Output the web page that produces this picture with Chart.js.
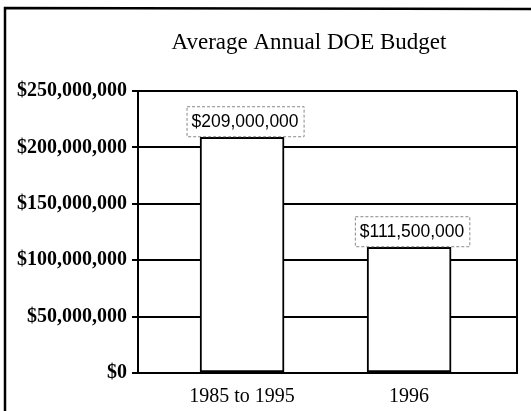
<!DOCTYPE html>
<html>
<head>
<meta charset="utf-8">
<script src="https://cdn.jsdelivr.net/npm/chart.js@4"></script>
<style>
  html, body { margin: 0; padding: 0; background: #fff; }
  #wrap { width: 531px; height: 411px; }
</style>
</head>
<body>
<div id="wrap"><canvas id="grafico" width="531" height="411"></canvas></div>
<script>
const titulo = "Average Annual DOE Budget";
const categorias = ["1985 to 1995", "1996"];
const orcamento = [209000000, 111500000];
const rotulos = ["$209,000,000", "$111,500,000"];
const ticksY = [0, 50000000, 100000000, 150000000, 200000000, 250000000];

// moldura, titulo e borda direita do grafico
const molduraPlugin = {
  id: "moldura",
  beforeDraw(chart) {
    const ctx = chart.ctx;
    const a = chart.chartArea;
    ctx.save();
    ctx.fillStyle = "#fff";
    ctx.fillRect(0, 0, chart.width, chart.height);
    ctx.strokeStyle = "#000";
    ctx.lineWidth = 2.5;
    ctx.beginPath();
    ctx.moveTo(5, 411);
    ctx.lineTo(5, 8);
    ctx.lineTo(531, 9);
    ctx.stroke();
    ctx.lineWidth = 2;
    ctx.beginPath();
    ctx.moveTo(a.right, a.top);
    ctx.lineTo(a.right, a.bottom);
    ctx.stroke();
    ctx.fillStyle = "#000";
    ctx.font = "23px 'Liberation Serif'";
    ctx.textAlign = "center";
    ctx.textBaseline = "alphabetic";
    ctx.fillText(titulo, 309, 49);
    ctx.restore();
  }
};

// caixas com o valor acima de cada barra
const rotuloPlugin = {
  id: "rotulos",
  afterDatasetsDraw(chart) {
    const ctx = chart.ctx;
    const meta = chart.getDatasetMeta(0);
    ctx.save();
    ctx.font = "17.5px 'Liberation Sans'";
    ctx.textAlign = "center";
    ctx.textBaseline = "middle";
    meta.data.forEach((bar, i) => {
      const txt = rotulos[i];
      const w = ctx.measureText(txt).width + 10;
      const h = 30;
      const cx = bar.x + 3;
      const y0 = bar.y - h - 1;
      ctx.fillStyle = "#fff";
      ctx.fillRect(cx - w / 2, y0, w, h);
      ctx.setLineDash([3, 2]);
      ctx.strokeStyle = "#888";
      ctx.lineWidth = 1;
      ctx.strokeRect(cx - w / 2 + 0.5, y0 + 0.5, w, h);
      ctx.setLineDash([]);
      ctx.fillStyle = "#000";
      ctx.fillText(txt, cx, y0 + h / 2 + 1);
    });
    ctx.restore();
  }
};

new Chart(document.getElementById("grafico").getContext("2d"), {
  type: "bar",
  data: {
    datasets: [{
      data: orcamento.map((v, i) => ({ x: i, y: v })),
      backgroundColor: "#fff",
      borderColor: "#000",
      borderWidth: 2,
      borderSkipped: false,
      barThickness: 84
    }]
  },
  options: {
    responsive: false,
    animation: false,
    devicePixelRatio: 1,
    layout: { padding: { top: 91, right: 14, bottom: 0, left: 0 } },
    plugins: { legend: { display: false }, title: { display: false }, tooltip: { enabled: false } },
    scales: {
      x: {
        type: "linear",
        offset: false,
        min: -0.623,
        max: 1.646,
        afterBuildTicks: axis => { axis.ticks = categorias.map((c, i) => ({ value: i })); },
        afterFit: axis => { axis.height = 38; },
        grid: { display: false },
        border: { display: true, color: "#000", width: 2 },
        ticks: {
          callback: v => categorias[v],
          color: "#000",
          padding: 4,
          font: { family: "'Liberation Serif'", size: 20 }
        }
      },
      y: {
        min: 0,
        max: 250000000,
        afterBuildTicks: axis => { axis.ticks = ticksY.map(v => ({ value: v })); },
        afterFit: axis => { axis.width = 138; },
        grid: { color: "#000", lineWidth: 2, tickLength: 6, drawTicks: true },
        border: { display: true, color: "#000", width: 2 },
        ticks: {
          callback: v => "$" + v.toLocaleString("en-US"),
          color: "#000",
          padding: 5,
          font: { family: "'Liberation Serif'", size: 20, weight: "bold" }
        }
      }
    }
  },
  plugins: [molduraPlugin, rotuloPlugin]
});
</script>
</body>
</html>
